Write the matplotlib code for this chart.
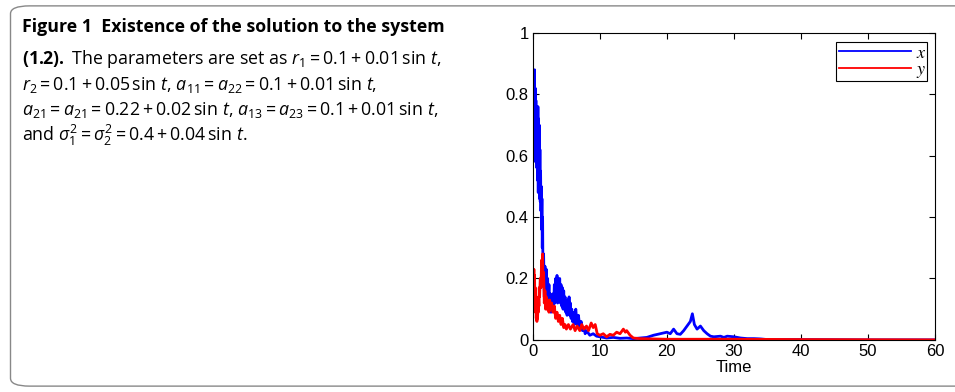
import matplotlib
matplotlib.use('Agg')
import matplotlib.pyplot as plt
from matplotlib.patches import FancyBboxPatch

# values (x and y trajectories against time)
t_x = [0.0, 0.05, 0.1, 0.15, 0.2, 0.25, 0.3, 0.35, 0.4, 0.45, 0.5, 0.55, 0.6, 0.65,
       0.7, 0.75, 0.8, 0.85, 0.9, 0.95, 1.0, 1.05, 1.1, 1.15, 1.2, 1.25, 1.3, 1.35,
       1.4, 1.45, 1.5, 1.6, 1.7, 1.8, 1.9, 2.0, 2.1, 2.2, 2.3, 2.4, 2.5, 2.6, 2.7,
       2.8, 2.9, 3.0, 3.1, 3.2, 3.3, 3.4, 3.5, 3.6, 3.7, 3.8, 3.9, 4.0, 4.1, 4.2,
       4.3, 4.4, 4.5, 4.6, 4.7, 4.8, 4.9, 5.0, 5.1, 5.2, 5.3, 5.4, 5.5, 5.6, 5.7,
       5.8, 5.9, 6.0, 6.2, 6.4, 6.6, 6.8, 7.0, 7.2, 7.4, 7.6, 7.8, 8.0, 8.5, 9.0,
       9.5, 10, 11, 12, 13, 14, 15, 16, 17, 18, 19, 20, 20.5, 21, 21.5, 22, 22.5,
       23, 23.5, 23.8, 24.1, 24.5, 25, 25.5, 26, 26.5, 27, 28, 28.5, 29, 30, 31,
       32, 33, 34, 35, 40, 45, 50, 60]
x_vals = [0.60, 0.75, 0.62, 0.87, 0.70, 0.88, 0.60, 0.82, 0.58, 0.78, 0.64, 0.76, 0.56, 0.74,
          0.52, 0.76, 0.48, 0.72, 0.50, 0.70, 0.46, 0.62, 0.45, 0.55, 0.42, 0.50, 0.36, 0.46,
          0.30, 0.40, 0.22, 0.28, 0.14, 0.24, 0.14, 0.23, 0.11, 0.20, 0.12, 0.18, 0.10, 0.15, 0.09,
          0.13, 0.10, 0.15, 0.11, 0.18, 0.12, 0.20, 0.13, 0.21, 0.12, 0.19, 0.13, 0.20, 0.12, 0.18,
          0.11, 0.17, 0.10, 0.16, 0.10, 0.14, 0.09, 0.12, 0.08, 0.13, 0.09, 0.14, 0.08, 0.12, 0.07,
          0.10, 0.06, 0.09, 0.05, 0.10, 0.05, 0.08, 0.04, 0.06, 0.03, 0.04, 0.02, 0.03, 0.015, 0.02,
          0.012, 0.01, 0.006, 0.008, 0.005, 0.006, 0.004, 0.006, 0.008, 0.015, 0.02, 0.025, 0.02, 0.035, 0.02, 0.018, 0.03,
          0.045, 0.06, 0.085, 0.05, 0.035, 0.045, 0.03, 0.02, 0.012, 0.01, 0.012, 0.008, 0.012, 0.01, 0.006,
          0.004, 0.004, 0.003, 0.001, 0.001, 0.0005, 0.0, 0.0]

t_y = [0.0, 0.05, 0.1, 0.15, 0.2, 0.25, 0.3, 0.35, 0.4, 0.45, 0.5, 0.55, 0.6, 0.65,
       0.7, 0.75, 0.8, 0.85, 0.9, 0.95, 1.0, 1.1, 1.2, 1.3, 1.4, 1.45, 1.5, 1.6,
       1.7, 1.8, 1.9, 2.0, 2.1, 2.2, 2.4, 2.5, 2.6, 2.8, 3.0, 3.2, 3.4, 3.6, 3.8,
       4.0, 4.2, 4.4, 4.6, 4.8, 5.0, 5.3, 5.6, 6.0, 6.3, 6.6, 7.0, 7.3, 7.6, 8.0,
       8.3, 8.7, 9.0, 9.3, 9.6, 10, 10.5, 11, 11.5, 12, 12.5, 13, 13.5, 13.8, 14,
       14.5, 15, 16, 18, 20, 25, 30, 40, 60]
y_vals = [0.14, 0.22, 0.16, 0.23, 0.14, 0.21, 0.12, 0.17, 0.09, 0.12, 0.07, 0.10, 0.06, 0.09,
          0.07, 0.11, 0.09, 0.14, 0.11, 0.17, 0.14, 0.20, 0.17, 0.26, 0.20, 0.28, 0.19, 0.22,
          0.12, 0.16, 0.10, 0.14, 0.10, 0.13, 0.09, 0.13, 0.10, 0.12, 0.09, 0.11, 0.07, 0.09, 0.06,
          0.08, 0.05, 0.07, 0.04, 0.05, 0.035, 0.05, 0.035, 0.05, 0.03, 0.045, 0.03, 0.05, 0.035, 0.045,
          0.03, 0.055, 0.04, 0.05, 0.02, 0.015, 0.02, 0.01, 0.018, 0.015, 0.025, 0.02, 0.035, 0.025, 0.03,
          0.015, 0.006, 0.004, 0.003, 0.002, 0.002, 0.002, 0.001, 0.0]

plt.rcParams['mathtext.fontset'] = 'custom'
plt.rcParams['mathtext.rm'] = 'Open Sans'
plt.rcParams['mathtext.it'] = 'Open Sans:italic'
plt.rcParams['mathtext.bf'] = 'Open Sans:bold'

fig = plt.figure(figsize=(9.55, 3.92), dpi=100)

# rounded frame around figure + caption
frame = FancyBboxPatch((0.011, 0.015), 1.05, 0.97, boxstyle='round,pad=0,rounding_size=0.02',
                       transform=fig.transFigure, fill=False, edgecolor='#888888', linewidth=1.0)
fig.patches.append(frame)

# caption
fig.text(0.023, 0.93, 'Figure 1  Existence of the solution to the system',
         fontsize=12.8, fontweight='bold', family='Open Sans', va='center')
caption = [
    r'$\mathbf{(1.2).}$ The parameters are set as $r_1 = 0.1 + 0.01\,\sin\,t$,',
    r'$r_2 = 0.1 + 0.05\,\sin\,t$, $a_{11} = a_{22} = 0.1 + 0.01\,\sin\,t$,',
    r'$a_{21} = a_{21} = 0.22 + 0.02\,\sin\,t$, $a_{13} = a_{23} = 0.1 + 0.01\,\sin\,t$,',
    r'and $\sigma_1^2 = \sigma_2^2 = 0.4 + 0.04\,\sin\,t$.',
]
for i, line in enumerate(caption):
    fig.text(0.023, 0.849 - i * 0.065, line, fontsize=12.8, family='Open Sans', va='center')

ax = fig.add_axes([0.558, 0.133, 0.421, 0.783])
ax.plot(t_x, x_vals, color='#0000ff', linewidth=2.0, label='x')
ax.plot(t_y, y_vals, color='#ff0000', linewidth=2.0, label='y')

ax.set_xlim(0, 60)
ax.set_ylim(0, 1)
ax.set_xticks([0, 10, 20, 30, 40, 50, 60])
ax.set_yticks([0, 0.2, 0.4, 0.6, 0.8, 1])
ax.set_yticklabels(['0', '0.2', '0.4', '0.6', '0.8', '1'])
ax.tick_params(direction='in', top=True, right=True, length=4, labelsize=12, pad=3)
for lbl in ax.get_xticklabels() + ax.get_yticklabels():
    lbl.set_family('Liberation Sans')
ax.set_xlabel('Time', fontsize=12, family='Liberation Sans', labelpad=1)

leg = ax.legend(loc='upper right', handlelength=4.0, fancybox=False, framealpha=1,
                edgecolor='black', borderpad=0.15, labelspacing=0.0, handletextpad=0.3,
                borderaxespad=0.0,
                prop={'family': 'STIXGeneral', 'style': 'italic', 'size': 13},
                bbox_to_anchor=(0.98, 0.97))
leg.get_frame().set_linewidth(0.8)
for h in leg.get_lines():
    h.set_linewidth(1.3)

fig.savefig('out.png', dpi=100)
